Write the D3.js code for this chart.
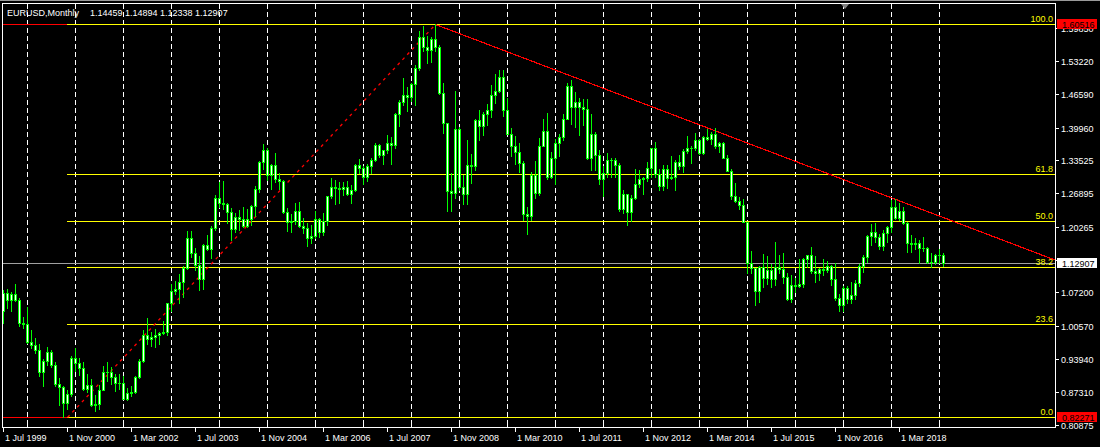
<!DOCTYPE html>
<html><head><meta charset="utf-8">
<script src="https://cdn.jsdelivr.net/npm/d3@7"></script>
<style>html,body{margin:0;padding:0;background:#000;overflow:hidden}svg{display:block}text{font-family:"Liberation Sans",Arial,sans-serif}</style>
</head><body><svg id="c" width="1100" height="447"></svg>
<script>
// ---------- data ----------
const symbolTitle = "EURUSD,Monthly";
const lastOHLC = ["1.14459", "1.14894", "1.12338", "1.12907"];
const firstMonth = [1999, 6];   // Jul 1999 (month index 0-based)
const lastMonth = [2019, 1];    // Feb 2019

const opens = [
1.0345,1.0690,1.0560,1.0680,1.0560,1.0090,
1.0070,0.9720,0.9660,0.9570,0.9120,0.9340,0.9520,0.9260,0.8880,0.8830,0.8500,0.8690,
0.9400,0.9300,0.9200,0.8780,0.8870,0.8460,0.8490,0.8770,0.9120,0.9120,0.9030,0.8900,
0.8900,0.8590,0.8700,0.8720,0.9020,0.9340,0.9860,0.9780,0.9810,0.9860,0.9890,0.9920,
1.0490,1.0740,1.0780,1.0910,1.1190,1.1800,1.1500,1.1260,1.0980,1.1650,1.1580,1.1990,
1.2590,1.2480,1.2470,1.2310,1.1970,1.2200,1.2170,1.2020,1.2160,1.2430,1.2760,1.3300,
1.3550,1.3040,1.3240,1.2960,1.2920,1.2300,1.2100,1.2130,1.2330,1.2030,1.1990,1.1790,
1.1840,1.2160,1.1910,1.2120,1.2620,1.2810,1.2790,1.2760,1.2810,1.2670,1.2750,1.3250,
1.3190,1.3000,1.3230,1.3350,1.3650,1.3450,1.3540,1.3690,1.3640,1.4260,1.4500,1.4630,
1.4590,1.4860,1.5180,1.5790,1.5600,1.5540,1.5760,1.5600,1.4680,1.4090,1.2720,1.2690,
1.3970,1.2800,1.2670,1.3250,1.3230,1.4150,1.4030,1.4250,1.4340,1.4640,1.4720,1.5000,
1.4330,1.3870,1.3630,1.3510,1.3290,1.2270,1.2230,1.3050,1.2680,1.3630,1.3930,1.3000,
1.3380,1.3690,1.3810,1.4160,1.4810,1.4390,1.4500,1.4390,1.4360,1.3390,1.3860,1.3450,
1.2960,1.3080,1.3340,1.3340,1.3240,1.2360,1.2660,1.2300,1.2580,1.2860,1.2960,1.2990,
1.3190,1.3580,1.3060,1.2820,1.3170,1.2990,1.3010,1.3300,1.3220,1.3520,1.3580,1.3590,
1.3750,1.3480,1.3800,1.3770,1.3870,1.3630,1.3690,1.3390,1.3130,1.2630,1.2530,1.2450,
1.2100,1.1290,1.1190,1.0730,1.1220,1.0990,1.1150,1.0980,1.1210,1.1180,1.1010,1.0570,
1.0860,1.0830,1.0870,1.1380,1.1450,1.1130,1.1100,1.1170,1.1150,1.1240,1.0980,1.0590,
1.0460,1.0800,1.0580,1.0650,1.0900,1.1240,1.1420,1.1840,1.1910,1.1810,1.1640,1.1900,
1.2000,1.2410,1.2190,1.2320,1.2080,1.1690,1.1680,1.1690,1.1600,1.1600,1.1310,1.1320,
1.1460,1.14459];
const highs = [
1.0755,1.0770,1.0710,1.0880,1.0600,1.0220,
1.0415,0.9950,0.9800,0.9680,0.9380,0.9620,0.9560,0.9320,0.9000,0.8840,0.8760,0.9440,
0.9600,0.9410,0.9330,0.9080,0.8990,0.8670,0.8860,0.9240,0.9330,0.9220,0.9080,0.9080,
0.9040,0.8800,0.8850,0.9050,0.9380,0.9960,1.0200,0.9920,0.9970,0.9910,1.0140,1.0500,
1.0880,1.0940,1.1080,1.1240,1.1930,1.1930,1.1600,1.1440,1.1680,1.1860,1.2020,1.2650,
1.2900,1.2930,1.2490,1.2390,1.2280,1.2340,1.2400,1.2360,1.2440,1.2820,1.3320,1.3670,
1.3580,1.3270,1.3480,1.3090,1.2940,1.2380,1.2270,1.2490,1.2510,1.2190,1.2080,1.2040,
1.2320,1.2180,1.2280,1.2630,1.2980,1.2950,1.2900,1.2910,1.2920,1.2840,1.3270,1.3370,
1.3220,1.3270,1.3380,1.3680,1.3660,1.3550,1.3850,1.3810,1.4280,1.4530,1.4970,1.4800,
1.4880,1.5240,1.5910,1.6020,1.5820,1.5800,1.60516,1.5630,1.4870,1.4090,1.3080,1.4720,
1.4000,1.3050,1.3740,1.3460,1.4170,1.4340,1.4300,1.4450,1.4840,1.5060,1.5140,1.5140,
1.4580,1.3990,1.3820,1.3690,1.3320,1.2400,1.3100,1.3330,1.3780,1.4160,1.4280,1.3500,
1.3760,1.3860,1.4250,1.4870,1.4940,1.4700,1.4580,1.4550,1.4550,1.4250,1.3900,1.3550,
1.3230,1.3480,1.3390,1.3380,1.3280,1.2750,1.2670,1.2640,1.3170,1.3140,1.3010,1.3310,
1.3580,1.3710,1.3160,1.3240,1.3240,1.3420,1.3340,1.3450,1.3570,1.3830,1.3620,1.3890,
1.3770,1.3830,1.3960,1.3910,1.3990,1.3700,1.3700,1.3440,1.3160,1.2890,1.2600,1.2570,
1.2110,1.1530,1.1200,1.1230,1.1470,1.1440,1.1280,1.1710,1.1460,1.1500,1.1090,1.1050,
1.0990,1.1380,1.1390,1.1460,1.1620,1.1430,1.1190,1.1370,1.1330,1.1260,1.1300,1.0670,
1.0830,1.0830,1.0910,1.0950,1.1270,1.1450,1.1850,1.2070,1.2090,1.1880,1.1960,1.2020,
1.2540,1.2560,1.2480,1.2410,1.2100,1.1850,1.1790,1.1750,1.1820,1.1620,1.1500,1.1480,
1.1570,1.14894];
const lows = [
1.0100,1.0390,1.0330,1.0530,1.0040,1.0000,
0.9700,0.9600,0.9510,0.9040,0.8840,0.9260,0.9220,0.8850,0.8470,0.82271,0.8380,0.8650,
0.9140,0.9060,0.8770,0.8730,0.8450,0.8350,0.8390,0.8760,0.8940,0.8890,0.8740,0.8780,
0.8580,0.8560,0.8650,0.8700,0.9000,0.9320,0.9690,0.9650,0.9630,0.9680,0.9880,0.9860,
1.0340,1.0680,1.0500,1.0620,1.1170,1.1420,1.1150,1.0760,1.0770,1.1560,1.1400,1.1960,
1.2400,1.2360,1.2080,1.1760,1.1910,1.1950,1.2000,1.2000,1.2040,1.2230,1.2700,1.3170,
1.2950,1.2770,1.2900,1.2760,1.2290,1.1930,1.1910,1.2060,1.2000,1.1900,1.1640,1.1700,
1.1800,1.1820,1.1860,1.2050,1.2590,1.2460,1.2480,1.2640,1.2650,1.2480,1.2730,1.3080,
1.2870,1.2930,1.3080,1.3330,1.3410,1.3260,1.3490,1.3270,1.3580,1.4030,1.4430,1.4310,
1.4510,1.4440,1.5130,1.5510,1.5280,1.5300,1.5510,1.4660,1.3890,1.2330,1.2330,1.2590,
1.2750,1.2460,1.2460,1.2880,1.3140,1.3740,1.3840,1.4050,1.4200,1.4480,1.4700,1.4220,
1.3860,1.3430,1.3270,1.3110,1.2150,1.1880,1.2150,1.2590,1.2650,1.3620,1.2960,1.2980,
1.2860,1.3430,1.3750,1.4160,1.4060,1.4010,1.3840,1.4050,1.3360,1.3150,1.3140,1.2860,
1.2620,1.3010,1.3000,1.3000,1.2330,1.2290,1.2040,1.2130,1.2560,1.2800,1.2660,1.2930,
1.3000,1.3010,1.2750,1.2740,1.2790,1.2960,1.2750,1.3170,1.3110,1.3490,1.3290,1.3540,
1.3470,1.3470,1.3750,1.3670,1.3590,1.3500,1.3380,1.3130,1.2570,1.2500,1.2360,1.2100,
1.1100,1.1100,1.0460,1.0520,1.0820,1.0880,1.0810,1.0850,1.1090,1.0900,1.0560,1.0520,
1.0710,1.0810,1.0820,1.1210,1.1100,1.0910,1.0950,1.1050,1.1120,1.0850,1.0560,1.0340,
1.0340,1.0490,1.0490,1.0570,1.0840,1.1120,1.1310,1.1660,1.1720,1.1570,1.1550,1.1720,
1.1920,1.2160,1.2150,1.2060,1.1510,1.1510,1.1570,1.1300,1.1530,1.1300,1.1220,1.1270,
1.1290,1.12338];
const closes = [
1.0690,1.0560,1.0680,1.0560,1.0090,1.0070,
0.9720,0.9660,0.9570,0.9120,0.9340,0.9520,0.9260,0.8880,0.8830,0.8500,0.8690,0.9400,
0.9300,0.9200,0.8780,0.8870,0.8460,0.8490,0.8770,0.9120,0.9120,0.9030,0.8900,0.8900,
0.8590,0.8700,0.8720,0.9020,0.9340,0.9860,0.9780,0.9810,0.9860,0.9890,0.9920,1.0490,
1.0740,1.0780,1.0910,1.1190,1.1800,1.1500,1.1260,1.0980,1.1650,1.1580,1.1990,1.2590,
1.2480,1.2470,1.2310,1.1970,1.2200,1.2170,1.2020,1.2160,1.2430,1.2760,1.3300,1.3550,
1.3040,1.3240,1.2960,1.2920,1.2300,1.2100,1.2130,1.2330,1.2030,1.1990,1.1790,1.1840,
1.2160,1.1910,1.2120,1.2620,1.2810,1.2790,1.2760,1.2810,1.2670,1.2750,1.3250,1.3190,
1.3000,1.3230,1.3350,1.3650,1.3450,1.3540,1.3690,1.3640,1.4260,1.4500,1.4630,1.4590,
1.4860,1.5180,1.5790,1.5600,1.5540,1.5760,1.5600,1.4680,1.4090,1.2720,1.2690,1.3970,
1.2800,1.2670,1.3250,1.3230,1.4150,1.4030,1.4250,1.4340,1.4640,1.4720,1.5000,1.4330,
1.3870,1.3630,1.3510,1.3290,1.2270,1.2230,1.3050,1.2680,1.3630,1.3930,1.3000,1.3380,
1.3690,1.3810,1.4160,1.4810,1.4390,1.4500,1.4390,1.4360,1.3390,1.3860,1.3450,1.2960,
1.3080,1.3340,1.3340,1.3240,1.2360,1.2660,1.2300,1.2580,1.2860,1.2960,1.2990,1.3190,
1.3580,1.3060,1.2820,1.3170,1.2990,1.3010,1.3300,1.3220,1.3520,1.3580,1.3590,1.3750,
1.3480,1.3800,1.3770,1.3870,1.3630,1.3690,1.3390,1.3130,1.2630,1.2530,1.2450,1.2100,
1.1290,1.1190,1.0730,1.1220,1.0990,1.1150,1.0980,1.1210,1.1180,1.1010,1.0570,1.0860,
1.0830,1.0870,1.1380,1.1450,1.1130,1.1100,1.1170,1.1150,1.1240,1.0980,1.0590,1.0460,
1.0800,1.0580,1.0650,1.0900,1.1240,1.1420,1.1840,1.1910,1.1810,1.1640,1.1900,1.2000,
1.2410,1.2190,1.2320,1.2080,1.1690,1.1680,1.1690,1.1600,1.1600,1.1310,1.1320,1.1460,
1.14459,1.12907];

const priceTicks = [1.59850,1.53220,1.46590,1.39960,1.33525,1.26895,1.20265,1.13635,1.07200,1.00570,0.93940,0.87310,0.80875];
const fibLevels = [100.0, 61.8, 50.0, 38.2, 23.6, 0.0];
const fibLow = 0.82271, fibHigh = 1.60516;
const fibStartBar = 16, fibEndBar = 108;
const trendBars = [108, 223], trendPrices = [1.60516, 1.2570];
const currentPrice = 1.12907;
const dateLabelStep = 16;

// ---------- layout ----------
const W = 1100, H = 447;
const plotL = 3, plotR = 1055, plotT = 4, plotB = 427;
const svg = d3.select("#c");
svg.append("rect").attr("width", W).attr("height", H).attr("fill", "#000");

const months = d3.timeMonth.range(new Date(firstMonth[0], firstMonth[1], 1), new Date(lastMonth[0], lastMonth[1] + 1, 1));
const keys = months.map(d3.timeFormat("%Y-%m"));
const bars = months.map((d, i) => ({date: d, key: keys[i], o: opens[i], h: highs[i], l: lows[i], c: closes[i]}));

const x = d3.scalePoint().domain(keys).range([3.5, 3.5 + 4 * (keys.length - 1)]);
const y = d3.scaleLinear().domain([fibLow, fibHigh]).range([417.5, 24.5]);
const row = p => Math.floor(y(p));
const fmt = d3.format(".5f");

svg.append("defs").append("clipPath").attr("id", "clip")
  .append("rect").attr("x", plotL).attr("y", plotT).attr("width", plotR - plotL).attr("height", plotB - plotT);
const g = svg.append("g").attr("clip-path", "url(#clip)").attr("shape-rendering", "crispEdges");

// vertical grid (each January)
g.selectAll("line.grid").data(bars.filter(b => b.date.getMonth() === 0)).join("line")
  .attr("x1", b => x(b.key)).attr("x2", b => x(b.key)).attr("y1", plotT).attr("y2", plotB)
  .attr("stroke", "#fff").attr("stroke-width", 1).attr("stroke-dasharray", "5,3");

// red horizontal lines at fib extremes (full width)
g.selectAll("line.hl").data([fibHigh, fibLow]).join("line")
  .attr("x1", plotL).attr("x2", plotR).attr("y1", p => y(p)).attr("y2", p => y(p))
  .attr("stroke", "#ff0000");

// current price line
g.append("line").attr("x1", plotL).attr("x2", plotR)
  .attr("y1", Math.floor(y(currentPrice)) + 0.5).attr("y2", Math.floor(y(currentPrice)) + 0.5)
  .attr("stroke", "#a0a0a0");

// fib levels
const fibPrice = lv => fibLow + (fibHigh - fibLow) * lv / 100;
const fibX0 = x(keys[fibStartBar]) - 0.5;
g.selectAll("line.fib").data(fibLevels).join("line")
  .attr("x1", fibX0).attr("x2", plotR)
  .attr("y1", lv => Math.floor(y(fibPrice(lv))) + 0.5).attr("y2", lv => Math.floor(y(fibPrice(lv))) + 0.5)
  .attr("stroke", "#ffff00");
svg.selectAll("text.fib").data(fibLevels).join("text")
  .attr("x", 1053).attr("y", lv => Math.floor(y(fibPrice(lv))) - 2)
  .attr("text-anchor", "end").attr("fill", "#ffff00").attr("font-size", "9px")
  .text(lv => d3.format(".1f")(lv));

// fib base dashed line
g.append("line")
  .attr("x1", x(keys[fibStartBar])).attr("y1", y(fibLow))
  .attr("x2", x(keys[fibEndBar])).attr("y2", y(fibHigh))
  .attr("stroke", "#ff0000").attr("stroke-width", 1.3).attr("stroke-dasharray", "3,4")
  .attr("shape-rendering", "auto");

// trend line ray
{
  const x0 = x(keys[trendBars[0]]), y0 = y(trendPrices[0]);
  const x1 = x(keys[trendBars[1]]), y1 = y(trendPrices[1]);
  const k = (y1 - y0) / (x1 - x0);
  g.append("line").attr("x1", x0).attr("y1", y0).attr("x2", plotR).attr("y2", y0 + k * (plotR - x0))
    .attr("stroke", "#ff0000").attr("stroke-width", 1.2);
}

// candles
const cg = g.append("g");
bars.forEach(b => {
  const cx = x(b.key);
  const hr = row(b.h), lr = row(b.l);
  cg.append("rect").attr("x", cx - 0.5).attr("y", hr).attr("width", 1).attr("height", lr - hr + 1).attr("fill", "#00ff00");
  const t = row(Math.max(b.o, b.c)), bt = row(Math.min(b.o, b.c));
  const hh = bt - t + 1;
  cg.append("rect").attr("x", cx - 1.5).attr("y", t).attr("width", 3).attr("height", hh).attr("fill", "#00ff00");
  if (hh > 2) cg.append("rect").attr("x", cx - 0.5).attr("y", t + 1).attr("width", 1).attr("height", hh - 2).attr("fill", "#ffffff");
});

// frame
svg.append("line").attr("x1", 0).attr("x2", W).attr("y1", 0.5).attr("y2", 0.5).attr("stroke", "#9a9a9a");
svg.append("path").attr("d", `M2.5,${plotB + 0.5}V3.5H${plotR + 0.5}V${plotB + 0.5}H2.5`)
  .attr("fill", "none").attr("stroke", "#fff").attr("shape-rendering", "crispEdges");
svg.append("path").attr("d", "M841,4L849,4L845,9Z").attr("fill", "#808080");

// title
svg.append("text").attr("x", 7).attr("y", 16).attr("fill", "#fff").attr("font-size", "9px").text(symbolTitle);
svg.append("text").attr("x", 90).attr("y", 16).attr("fill", "#fff").attr("font-size", "9px").text(lastOHLC.join(" "));

// right price axis
const ra = svg.append("g");
ra.selectAll("line").data(priceTicks).join("line")
  .attr("x1", plotR + 1).attr("x2", plotR + 4)
  .attr("y1", p => Math.round(y(p)) + 0.5).attr("y2", p => Math.round(y(p)) + 0.5)
  .attr("stroke", "#fff").attr("shape-rendering", "crispEdges");
ra.selectAll("text").data(priceTicks).join("text")
  .attr("x", 1061).attr("y", p => Math.round(y(p)) + 4)
  .attr("fill", "#fff").attr("font-size", "9px").text(p => fmt(p));

function priceBox(p, bg, fg) {
  const cy = Math.round(y(p)) - 1;
  svg.append("rect").attr("x", 1057).attr("y", cy - 5).attr("width", 40).attr("height", 10).attr("fill", bg);
  svg.append("text").attr("x", 1062).attr("y", cy + 3.5).attr("fill", fg).attr("font-size", "9px").text(fmt(p));
}
priceBox(fibHigh, "#ff0000", "#000");
priceBox(fibLow, "#ff0000", "#000");
priceBox(currentPrice, "#ffffff", "#000");

// bottom time axis
const ba = svg.append("g").attr("shape-rendering", "crispEdges");
ba.selectAll("line.minor").data(bars.filter(b => b.date.getMonth() === 0)).join("line")
  .attr("x1", b => x(b.key)).attr("x2", b => x(b.key)).attr("y1", plotB - 5).attr("y2", plotB)
  .attr("stroke", "#fff");
const labelBars = bars.filter((b, i) => i % dateLabelStep === 0);
ba.selectAll("line.major").data(labelBars).join("line")
  .attr("x1", b => x(b.key)).attr("x2", b => x(b.key)).attr("y1", plotB).attr("y2", plotB + 5)
  .attr("stroke", "#fff");
svg.selectAll("text.date").data(labelBars).join("text")
  .attr("x", b => x(b.key) + 1.5).attr("y", 441)
  .attr("fill", "#fff").attr("font-size", "9px")
  .text(b => d3.timeFormat("%-d %b %Y")(b.date));
</script></body></html>
